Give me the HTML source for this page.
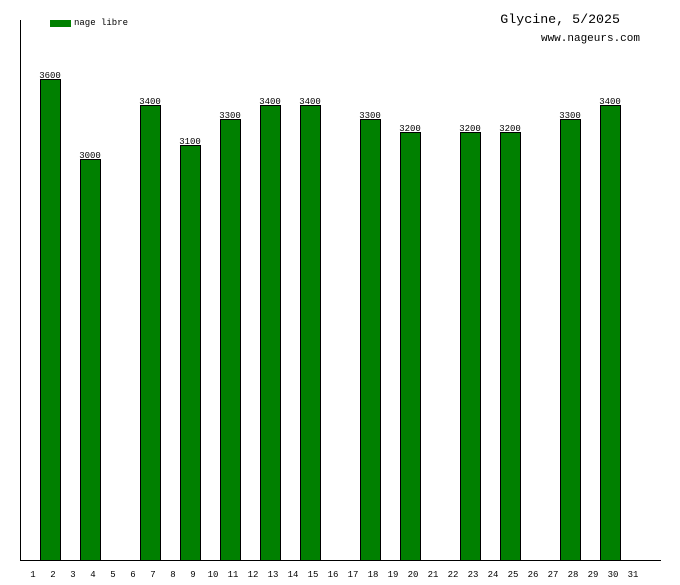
<!DOCTYPE html><html><head><style>body{margin:0;background:#fff}</style></head><body>
<svg width="680" height="580" xmlns="http://www.w3.org/2000/svg" font-family="Liberation Mono, DejaVu Sans Mono, monospace">
<rect width="680" height="580" fill="#fff"/>
<line x1="20.5" y1="20" x2="20.5" y2="560" stroke="#000"/>
<line x1="20" y1="560.5" x2="661" y2="560.5" stroke="#000"/>
<rect x="50" y="20" width="21" height="7" fill="#008000"/>
<text x="74" y="25" font-size="9">nage libre</text>
<text x="620" y="23" font-size="13.3" text-anchor="end">Glycine, 5/2025</text>
<text x="640" y="41" font-size="11" text-anchor="end">www.nageurs.com</text>
<g fill="#008000" stroke="#000">
<rect x="40.5" y="79.5" width="20" height="481"/>
<rect x="80.5" y="159.5" width="20" height="401"/>
<rect x="140.5" y="105.5" width="20" height="455"/>
<rect x="180.5" y="145.5" width="20" height="415"/>
<rect x="220.5" y="119.5" width="20" height="441"/>
<rect x="260.5" y="105.5" width="20" height="455"/>
<rect x="300.5" y="105.5" width="20" height="455"/>
<rect x="360.5" y="119.5" width="20" height="441"/>
<rect x="400.5" y="132.5" width="20" height="428"/>
<rect x="460.5" y="132.5" width="20" height="428"/>
<rect x="500.5" y="132.5" width="20" height="428"/>
<rect x="560.5" y="119.5" width="20" height="441"/>
<rect x="600.5" y="105.5" width="20" height="455"/>
</g>
<g font-size="9" text-anchor="middle">
<text x="50" y="78">3600</text>
<text x="90" y="158">3000</text>
<text x="150" y="104">3400</text>
<text x="190" y="144">3100</text>
<text x="230" y="118">3300</text>
<text x="270" y="104">3400</text>
<text x="310" y="104">3400</text>
<text x="370" y="118">3300</text>
<text x="410" y="131">3200</text>
<text x="470" y="131">3200</text>
<text x="510" y="131">3200</text>
<text x="570" y="118">3300</text>
<text x="610" y="104">3400</text>
</g>
<g font-size="9" text-anchor="middle">
<text x="33" y="577">1</text><text x="53" y="577">2</text><text x="73" y="577">3</text><text x="93" y="577">4</text><text x="113" y="577">5</text><text x="133" y="577">6</text><text x="153" y="577">7</text><text x="173" y="577">8</text><text x="193" y="577">9</text><text x="213" y="577">10</text><text x="233" y="577">11</text><text x="253" y="577">12</text><text x="273" y="577">13</text><text x="293" y="577">14</text><text x="313" y="577">15</text><text x="333" y="577">16</text><text x="353" y="577">17</text><text x="373" y="577">18</text><text x="393" y="577">19</text><text x="413" y="577">20</text><text x="433" y="577">21</text><text x="453" y="577">22</text><text x="473" y="577">23</text><text x="493" y="577">24</text><text x="513" y="577">25</text><text x="533" y="577">26</text><text x="553" y="577">27</text><text x="573" y="577">28</text><text x="593" y="577">29</text><text x="613" y="577">30</text><text x="633" y="577">31</text>
</g>
</svg></body></html>
